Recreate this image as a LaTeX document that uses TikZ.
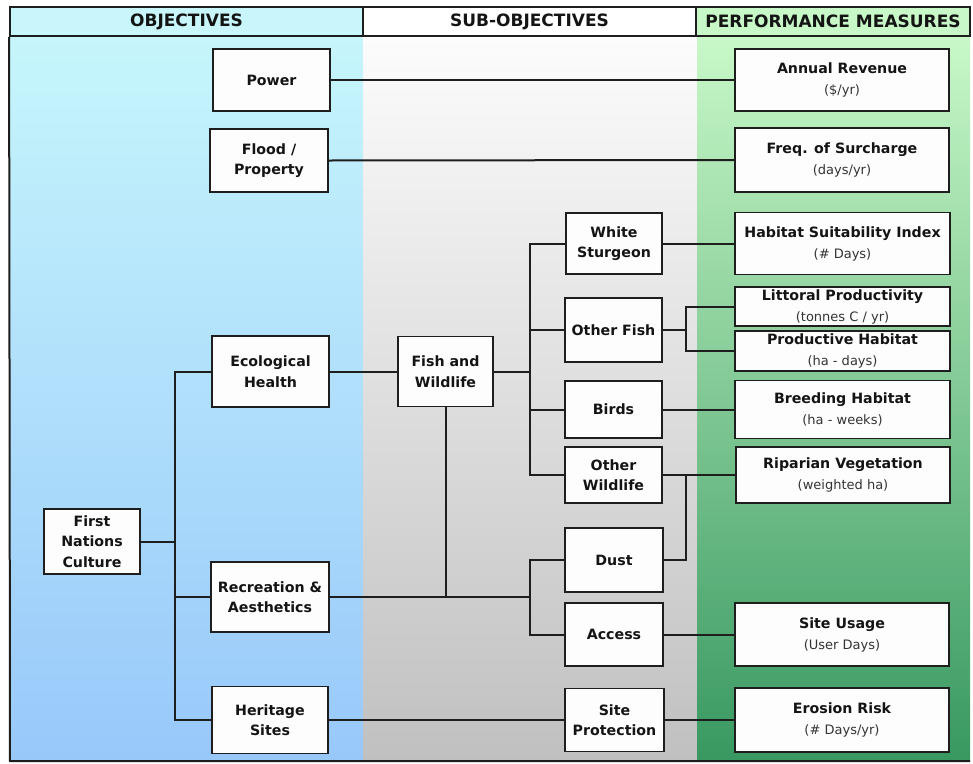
\documentclass[tikz,border=0pt]{standalone}
\usepackage{fontspec}
\setmainfont{DejaVu Sans}
\usetikzlibrary{calc}
\definecolor{boxline}{HTML}{1E1E1E}
\definecolor{boxfill}{HTML}{FDFDFD}
\definecolor{textc}{HTML}{141414}
\definecolor{subc}{HTML}{333333}
\definecolor{bluetop}{HTML}{C6F6FB}
\definecolor{bluebot}{HTML}{98C8FA}
\definecolor{graytop}{HTML}{FCFCFC}
\definecolor{graybot}{HTML}{C0C0C0}
\definecolor{greentop}{HTML}{C8F8C8}
\definecolor{greenbot}{HTML}{389860}
\definecolor{hdrblue}{HTML}{C8F6FA}
\definecolor{hdrgreen}{HTML}{C8F8C8}
\tikzset{
  box/.style={draw=boxline, fill=boxfill, line width=1.8pt, inner sep=0pt,
    align=center, text=textc, font=\fontsize{14.2}{20.5}\selectfont\bfseries},
  conn/.style={draw=boxline, line width=2pt},
  hdr/.style={draw=boxline, line width=1.8pt, inner sep=0pt, text=textc,
    font=\fontsize{17}{20}\selectfont\bfseries},
  frame/.style={draw=boxline, line width=2pt},
}
\newcommand{\sub}[1]{\\[0.5pt]{\fontsize{13}{20.5}\selectfont\mdseries\color{subc}#1}}
\begin{document}
\begin{tikzpicture}[x=1pt,y=-1pt]
\useasboundingbox (0,0) rectangle (973,763);
\fill[white] (0,0) rectangle (973,763);
% column backgrounds
\shade[top color=bluetop, bottom color=bluebot] (10,36) rectangle (363,761);
\shade[top color=graytop, bottom color=graybot] (363,36) rectangle (697,761);
\shade[top color=greentop, bottom color=greenbot] (697,36) rectangle (970,761);
% header
\node[hdr, fill=hdrblue, minimum width=353pt, minimum height=29pt] (h1) at (186.5,21.5) {OBJECTIVES};
\node[hdr, fill=white, minimum width=333pt, minimum height=29pt] (h2) at (529.5,21.5) {SUB-OBJECTIVES};
\node[hdr, fill=hdrgreen, minimum width=274pt, minimum height=29pt] (h3) at (833,21.5) {PERFORMANCE MEASURES};
% frame
\coordinate (fl) at (10,761);
\coordinate (fr) at (970,761);
\draw[frame] (h1.south west) -- (fl) -- (fr);

% objectives
\node[box, minimum width=117pt, minimum height=62pt] (power) at (271.5,80) {Power};
\node[box, minimum width=118pt, minimum height=63pt] (flood) at (269,160.5) {Flood /\\Property};
\node[box, minimum width=117pt, minimum height=71pt] (ecoh) at (270.5,371.5) {Ecological\\Health};
\node[box, minimum width=96pt, minimum height=65pt] (firstn) at (92,541.5) {First\\Nations\\Culture};
\node[box, minimum width=118pt, minimum height=70pt] (reca) at (270,597) {Recreation \&\\Aesthetics};
\node[box, minimum width=116pt, minimum height=67pt] (heritage) at (270,720) {Heritage\\Sites};

% sub-objectives
\node[box, minimum width=95pt, minimum height=70pt] (fishw) at (445.5,371.5) {Fish and\\Wildlife};
\node[box, minimum width=96pt, minimum height=61pt] (whitest) at (614,243.5) {White\\Sturgeon};
\node[box, minimum width=97pt, minimum height=64pt] (otherfish) at (613.5,330) {Other Fish};
\node[box, minimum width=97pt, minimum height=57pt] (birds) at (613.5,409.5) {Birds};
\node[box, minimum width=97pt, minimum height=56pt] (otherwild) at (613.5,475) {Other\\Wildlife};
\node[box, minimum width=98pt, minimum height=64pt] (dust) at (614,560) {Dust};
\node[box, minimum width=98pt, minimum height=63pt] (access) at (614,634.5) {Access};
\node[box, minimum width=99pt, minimum height=63pt] (siteprot) at (614.5,720) {Site\\Protection};

% performance measures
\node[box, minimum width=214pt, minimum height=62pt] (annrev) at (842,80) {Annual Revenue\sub{(\$/yr)}};
\node[box, minimum width=214pt, minimum height=64pt] (freq) at (842,160) {Freq. of Surcharge\sub{(days/yr)}};
\node[box, minimum width=215pt, minimum height=62pt] (hsi) at (842.5,243.5) {Habitat Suitability Index\sub{(\# Days)}};
\node[box, minimum width=215pt, minimum height=39pt] (littoral) at (842.5,306.5) {Littoral Productivity\sub{(tonnes C / yr)}};
\node[box, minimum width=215pt, minimum height=40pt] (productive) at (842.5,351) {Productive Habitat\sub{(ha - days)}};
\node[box, minimum width=215pt, minimum height=58pt] (breeding) at (842.5,409.5) {Breeding Habitat\sub{(ha - weeks)}};
\node[box, minimum width=214pt, minimum height=56pt] (riparian) at (843,475) {Riparian Vegetation\sub{(weighted ha)}};
\node[box, minimum width=214pt, minimum height=63pt] (siteusage) at (842,634.5) {Site Usage\sub{(User Days)}};
\node[box, minimum width=214pt, minimum height=64pt] (erosion) at (842,720) {Erosion Risk\sub{(\# Days/yr)}};

% bus coordinates
\coordinate (b1) at (175,0);
\coordinate (b2) at (530,0);
\coordinate (b3) at (686,0);

% connectors
\draw[conn] (power.east) -- (annrev.west);
\draw[conn] (flood.east) -- (freq.west);
\draw[conn] (firstn.east) -- (firstn.east -| b1);
\draw[conn] (ecoh.west) -- (ecoh.west -| b1) |- (heritage.west);
\draw[conn] (reca.west) -- (reca.west -| b1);
\draw[conn] (ecoh.east) -- (fishw.west);
\draw[conn] (fishw.east) -- (fishw.east -| b2);
\draw[conn] (whitest.west) -- (whitest.west -| b2) |- (otherwild.west);
\draw[conn] (otherfish.west) -- (otherfish.west -| b2);
\draw[conn] (birds.west) -- (birds.west -| b2);
\draw[conn] (fishw.south) -- (fishw.south |- reca.east);
\draw[conn] (reca.east) -- (reca.east -| b2);
\draw[conn] (dust.west) -- (dust.west -| b2) |- (access.west);
\draw[conn] (otherfish.east) -- (otherfish.east -| b3);
\draw[conn] (littoral.west) -- (littoral.west -| b3) |- (productive.west);
\draw[conn] (otherwild.east) -- (riparian.west);
\draw[conn] (dust.east) -| (b3 |- riparian.west);
\draw[conn] (whitest.east) -- (hsi.west);
\draw[conn] (birds.east) -- (breeding.west);
\draw[conn] (access.east) -- (siteusage.west);
\draw[conn] (heritage.east) -- (siteprot.west);
\draw[conn] (siteprot.east) -- (erosion.west);
\end{tikzpicture}
\end{document}
